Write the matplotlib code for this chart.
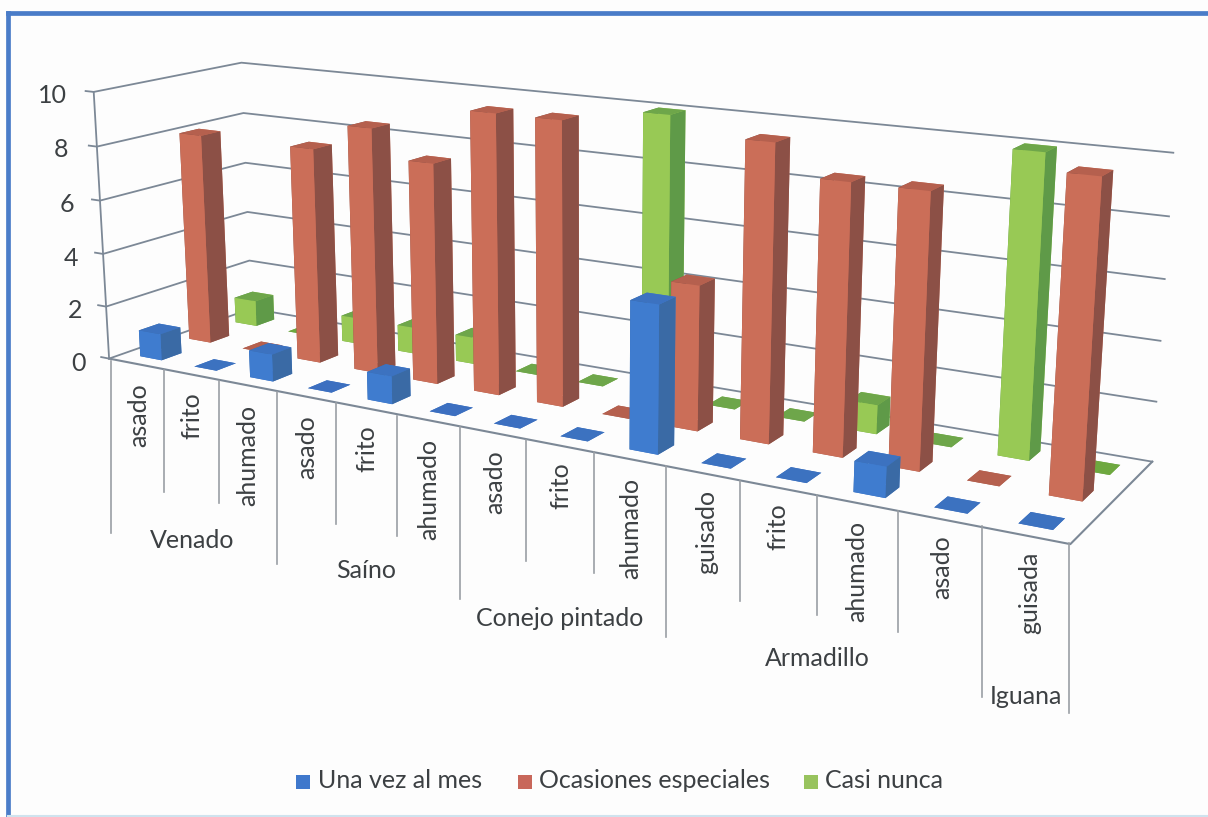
import numpy as np
import matplotlib
matplotlib.use("Agg")
import matplotlib.pyplot as plt
from matplotlib.patches import Rectangle

plt.rcParams["font.family"] = ["Lato", "DejaVu Sans"]

# data
cooking = ["asado", "frito", "ahumado", "asado", "frito", "ahumado", "asado",
           "frito", "ahumado", "guisado", "frito", "ahumado", "asado", "guisada"]
animals = ["Venado", "Saíno", "Conejo pintado", "Armadillo", "Iguana"]
series = ["Una vez al mes", "Ocasiones especiales", "Casi nunca"]
una_vez = [1, 0, 1, 0, 1, 0, 0, 0, 5, 0, 0, 1, 0, 0]
ocasiones = [8, 0, 8, 9, 8, 10, 10, 0, 5, 10, 9, 9, 0, 10]
casi_nunca = [1, 0, 1, 1, 1, 0, 0, 10, 0, 0, 1, 0, 10, 0]
y_ticks = [0, 2, 4, 6, 8, 10]

# faces of a bar: bottom, top, front, back, left, right
blue = ["#3c6fc0", "#3c72c0", "#3f7ccf", "#3f7ccf", "#3a6aa5", "#3a6aa5"]
red = ["#a85c4a", "#b5604e", "#cb6e58", "#cb6e58", "#8c5046", "#8c5046"]
green = ["#6ea83f", "#6ea64a", "#98c955", "#98c955", "#5f9a48", "#5f9a48"]
grid_col = "#7c8896"
text_col = "#3c4043"

W, H = 1208, 817
fig = plt.figure(figsize=(W / 100, H / 100), dpi=100, facecolor="#fdfdfd")

# the 3d part, camera worked out from the box corners
size = 1113
ax = fig.add_axes([19 / W, -20 / H, size / W, size / H], projection="3d",
                  computed_zorder=False)
ax.set_proj_type("persp", focal_length=0.35)
ax.view_init(elev=14, azim=-59.5)
ax.set_box_aspect((1.796, 0.403, 0.49))
ax.set_xlim(0, 14, view_margin=0)
ax.set_ylim(0, 3, view_margin=0)
ax.set_zlim(0, 10, view_margin=0)
ax.set_axis_off()
ax.patch.set_visible(False)

# walls and floor
for z in y_ticks:
    ax.plot([-0.15, 0, 0, 14], [0, 0, 3, 3], [z, z, z, z], color=grid_col, lw=1.3,
            zorder=1, clip_on=False)
ax.plot([0, 0], [0, 0], [0, 10], color=grid_col, lw=1.3, zorder=1, clip_on=False)
ax.plot([0, 14, 14], [0, 0, 3], [0, 0, 0], color=grid_col, lw=1.5, zorder=1, clip_on=False)

# bars, back row first so the front ones cover them
w = 0.40
rows = [(2, casi_nunca, green), (1, ocasiones, red), (0, una_vez, blue)]
z_order = 2
for row, vals, cols in rows:
    for i, v in enumerate(vals):
        ax.bar3d(i + 0.5 - w / 2, row + 0.5 - w / 2, 0, w, w, v, color=cols,
                 shade=False, zorder=z_order, edgecolor="none", clip_on=False)
        z_order += 1

# flat layer for everything excel draws in 2d
ov = fig.add_axes([0, 0, 1, 1], facecolor="none")
ov.set_xlim(0, W)
ov.set_ylim(H, 0)
ov.axis("off")

# the scan cuts the frame off on the right and at the bottom
ov.plot([8, 8], [H, 12.5], color="#4a7cc8", lw=3.4, solid_capstyle="projecting")
ov.plot([8, W], [12.5, 12.5], color="#4a7cc8", lw=3.4, solid_capstyle="projecting")
ov.plot([8, W], [816, 816], color="#cfe3ee", lw=1.5)

tick_x = [67, 68, 74, 78, 82, 86][::-1]
tick_y = [363, 310, 258, 204, 149, 95]
for t, tx, ty in zip(y_ticks, tick_x, tick_y):
    ov.text(tx, ty, str(t), ha="right", va="center", fontsize=18, color=text_col)

sep_x = [111, 164, 219, 277, 336, 397, 460, 526, 594, 666, 740, 817, 898, 982, 1069]
sep_top = [361, 370, 381, 392, 403, 416, 427, 440, 452, 466, 481, 495, 511, 526, 543]
sep_bot = [533, 492, 503, 564, 524, 536, 599, 561, 573, 637, 601, 615, 632, 697, 713]
for sx, st, sb in zip(sep_x, sep_top, sep_bot):
    ov.plot([sx, sx], [st, sb], color="#9a9fa5", lw=1.2)

label_x = [139, 192, 248, 307, 367, 429, 495, 561, 631, 707, 778, 857, 942, 1030]
label_y = [415, 416, 455, 447, 449, 489, 482, 486, 528, 532, 527, 571, 567, 593]
for name, lx, ly in zip(cooking, label_x, label_y):
    ov.text(lx, ly, name, rotation=90, ha="center", va="center", fontsize=18, color=text_col)

group_x = [192, 366, 560, 817, 1026]
group_y = [541, 571, 619, 659, 696]
for name, gx, gy in zip(animals, group_x, group_y):
    ov.text(gx, gy, name, ha="center", va="center", fontsize=18, color=text_col)

# legend
for name, col, bx, tx in zip(series, ["#3f78cc", "#c8675a", "#98c35e"], [296, 518, 804], [318, 539, 825]):
    ov.add_patch(Rectangle((bx, 775), 14, 14, color=col, lw=0))
    ov.text(tx, 781, name, ha="left", va="center", fontsize=18, color=text_col)

fig.savefig("out.png", dpi=100, facecolor=fig.get_facecolor())
